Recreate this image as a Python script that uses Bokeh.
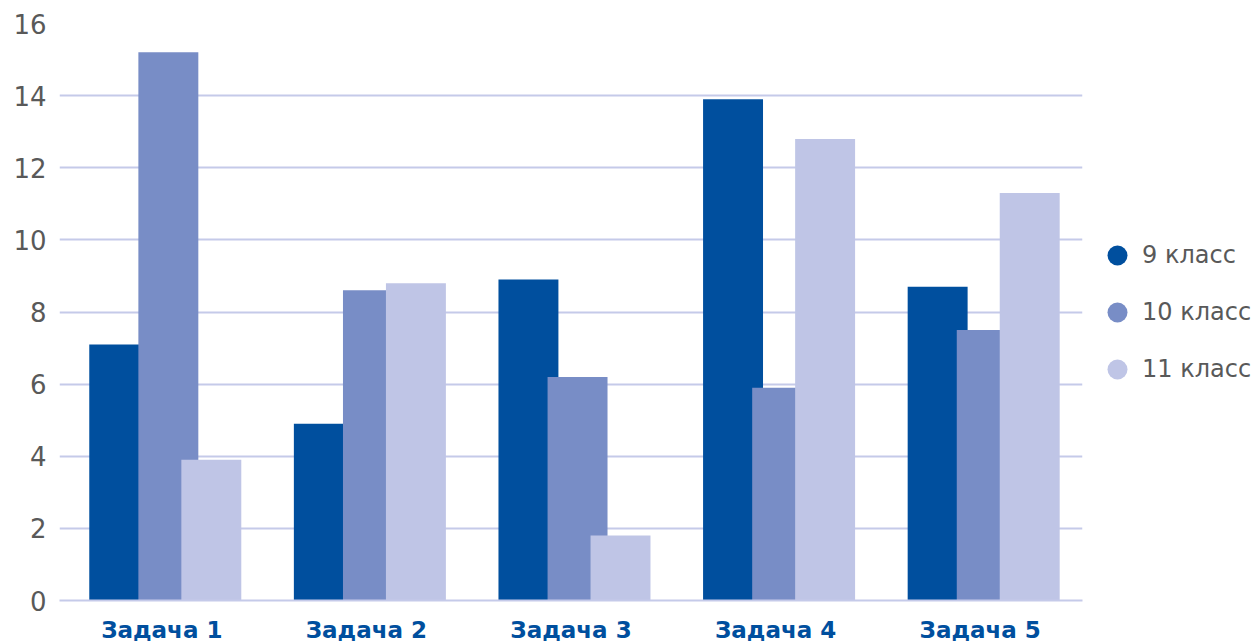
from bokeh.plotting import figure
from bokeh.layouts import row
from bokeh.models import (FactorRange, Range1d, FixedTicker, Legend, LegendItem,
                          ColumnDataSource)
from bokeh.transform import dodge
from bokeh.embed import file_html
from bokeh.resources import INLINE

# ---- data ----
tasks = ["Задача 1", "Задача 2", "Задача 3", "Задача 4", "Задача 5"]
grade9 = [7.1, 4.9, 8.9, 13.9, 8.7]
grade10 = [15.2, 8.6, 6.2, 5.9, 7.5]
grade11 = [3.9, 8.8, 1.8, 12.8, 11.3]
series_names = ["9 класс", "10 класс", "11 класс"]
y_ticks = [0, 2, 4, 6, 8, 10, 12, 14, 16]

# ---- style ----
colors = ["#004F9E", "#788DC6", "#BFC5E6"]
grid_color = "#C5CAE9"
text_gray = "#595959"
font = "DejaVu Sans"
offsets = [-0.208, 0.032, 0.242]
bar_w = 0.293

source = ColumnDataSource(dict(task=tasks, g9=grade9, g10=grade10, g11=grade11))
series = [grade9, grade10, grade11]

p = figure(x_range=FactorRange(*tasks), y_range=Range1d(0, 16),
           width=1090, height=645, output_backend="svg", toolbar_location=None,
           min_border_left=59, min_border_right=8, min_border_top=23,
           min_border_bottom=45)

cols = ["g9", "g10", "g11"]
for col, c, off in zip(cols, colors, offsets):
    p.vbar(x=dodge("task", off, range=p.x_range), top=col, width=bar_w,
           source=source, fill_color=c, line_color=None)

# y axis
p.yaxis.ticker = FixedTicker(ticks=y_ticks)
p.yaxis.axis_line_color = None
p.yaxis.major_tick_line_color = None
p.yaxis.minor_tick_line_color = None
p.yaxis.major_tick_out = 0
p.yaxis.major_tick_in = 0
p.yaxis.major_label_standoff = 13
p.yaxis.major_label_text_font = font
p.yaxis.major_label_text_font_size = "26px"
p.yaxis.major_label_text_color = text_gray

# x axis
p.xaxis.axis_line_color = grid_color
p.xaxis.axis_line_width = 2
p.xaxis.major_tick_line_color = None
p.xaxis.major_tick_out = 0
p.xaxis.major_tick_in = 0
p.xaxis.major_label_standoff = 16
p.xaxis.major_label_text_font = font
p.xaxis.major_label_text_font_style = "bold"
p.xaxis.major_label_text_font_size = "23px"
p.xaxis.major_label_text_color = colors[0]

p.xgrid.grid_line_color = None
p.ygrid.grid_line_color = grid_color
p.ygrid.grid_line_width = 2
p.outline_line_color = None

# ---- legend panel (separate figure to the right) ----
lp = figure(width=166, height=641, output_backend="svg", toolbar_location=None,
            x_range=Range1d(0, 1), y_range=Range1d(0, 1),
            x_axis_type=None, y_axis_type=None,
            min_border_left=0, min_border_right=0, min_border_top=0,
            min_border_bottom=0)
lp.grid.visible = False
lp.outline_line_color = None

legend_items = []
for vals, c, name in zip(series, colors, series_names):
    # zero-size proxy marks, only used to draw the legend circles
    r = lp.scatter(x=vals, y=vals, marker="circle", size=0,
                   fill_color=c, line_color=None)
    legend_items.append(LegendItem(label=name, renderers=[r]))

legend = Legend(items=legend_items, location=(2, 202), orientation="vertical",
                glyph_width=50, glyph_height=50, label_standoff=0, spacing=7,
                padding=0, margin=0, border_line_color=None,
                background_fill_alpha=0,
                label_text_font=font, label_text_font_size="24px",
                label_text_color=text_gray)
lp.add_layout(legend)

layout = row(p, lp)
open("out.html", "w").write(file_html(layout, INLINE))
